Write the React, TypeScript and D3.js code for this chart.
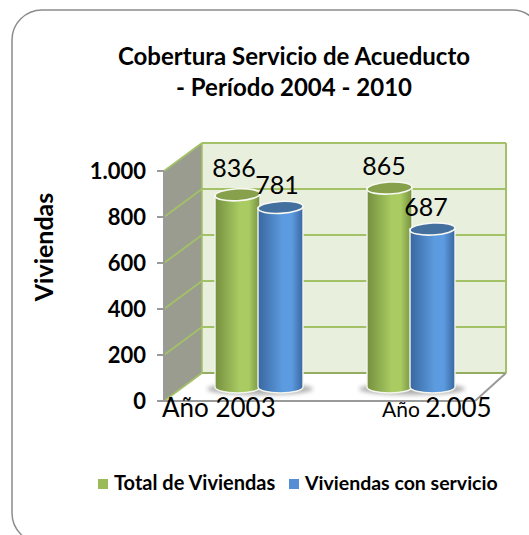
import React from "react";
import * as d3 from "d3";

const categories = ["Año 2003", "Año 2.005"];
const seriesNames = ["Total de Viviendas", "Viviendas con servicio"];
const totalViviendas = [836, 865];
const conServicio = [781, 687];
const yTicks = [0, 200, 400, 600, 800, 1000];
const tickLabels = ["0", "200", "400", "600", "800", "1.000"];
const titleLines = ["Cobertura Servicio de Acueducto", "- Período 2004 - 2010"];

const FONT = "Lato, Carlito, 'Open Sans', sans-serif";
const W = 529, H = 535;
const frontX0 = 164, backX0 = 202, backX1 = 506, frontX1 = 475;

const yFront = d3.scaleLinear().domain([0, 1000]).range([401, 171]);
const yBack = d3.scaleLinear().domain([0, 1000]).range([373, 143]);
const yBar = d3.scaleLinear().domain([0, 1000]).range([387, 157]);
const xCat = d3.scaleBand().domain(categories).range([184, 488]).paddingInner(0);
const BAR = 45;
const colors = [
  { id: "g", dark: "#75903f", light: "#a9cb62", top: "#87a04c", sw: "#9bbb59" },
  { id: "b", dark: "#39679f", light: "#5c9be0", top: "#44709f", sw: "#558ed5" },
];

function barX(catIdx: number, s: number) {
  const c = xCat(categories[catIdx])! + xCat.bandwidth() / 2 - 1;
  return s === 0 ? c - BAR + 1 : c - 1;
}

function Cyl({ x, v, s }: { x: number; v: number; s: number }) {
  const top = yBar(v), base = yBar(0);
  const rx = BAR / 2, ry = 6;
  const cx = x + rx;
  const c = colors[s];
  return (
    <g>
      <path
        d={`M${x},${top} L${x},${base} A${rx},${ry} 0 0 0 ${x + BAR},${base} L${x + BAR},${top} Z`}
        fill={`url(#grad-${c.id})`}
        stroke="#f4f6ee"
        strokeWidth={1.4}
      />
      <ellipse
        cx={cx}
        cy={top}
        rx={rx}
        ry={ry}
        transform={`rotate(-3 ${cx} ${top})`}
        fill={c.top}
        stroke="#f8f9f3"
        strokeWidth={1.6}
      />
    </g>
  );
}

export default function App() {
  const ls = [0, 1];
  return (
    <svg
      width={W}
      height={H}
      viewBox={`0 0 ${W} ${H}`}
      style={{ position: "absolute", left: 0, top: 0, background: "#fff" }}
    >
      <defs>
        {colors.map((c) => (
          <linearGradient key={c.id} id={`grad-${c.id}`} x1="0" x2="1" y1="0" y2="0">
            <stop offset="0" stopColor={c.dark} />
            <stop offset="0.55" stopColor={c.light} />
            <stop offset="0.75" stopColor={c.light} />
            <stop offset="1" stopColor={c.dark} />
          </linearGradient>
        ))}
        <filter id="blur" x="-20%" y="-50%" width="140%" height="200%">
          <feGaussianBlur stdDeviation="2" />
        </filter>
      </defs>

      <rect x={12} y={10} width={530} height={533} rx={30} fill="#fff" stroke="#8c8c8c" strokeWidth={1.5} />

      {/* back wall */}
      <rect x={backX0} y={yBack(1000)} width={backX1 - backX0} height={yBack(0) - yBack(1000)} fill="#e8efdd" />
      {/* side wall */}
      <polygon
        points={`${frontX0},${yFront(0)} ${backX0},${yBack(0)} ${backX0},${yBack(1000)} ${frontX0},${yFront(1000)}`}
        fill="#9a9c90"
      />
      {yTicks.map((t) => (
        <g key={t} stroke="#a3c166" strokeWidth={1.8} fill="none">
          <line x1={backX0} x2={backX1} y1={yBack(t)} y2={yBack(t)} stroke={t === 0 ? "#95ad60" : "#a3c166"} />
          <line x1={frontX0} x2={backX0} y1={yFront(t)} y2={yBack(t)} />
        </g>
      ))}
      <line x1={backX0} x2={backX0} y1={yBack(0)} y2={yBack(1000)} stroke="#a3c166" strokeWidth={1.5} />
      <line x1={backX1} x2={backX1} y1={yBack(0)} y2={yBack(1000)} stroke="#a3c166" strokeWidth={2} />

      {/* floor edges and axis */}
      <g stroke="#9a9a9a" strokeWidth={2} fill="none">
        <line x1={frontX0} x2={frontX0} y1={yFront(1000)} y2={yFront(0)} />
        <line x1={frontX0} x2={frontX1} y1={yFront(0)} y2={yFront(0)} />
        <line x1={frontX1} x2={backX1} y1={yFront(0)} y2={yBack(0)} />
        {yTicks.map((t) => (
          <line key={t} x1={frontX0 - 7} x2={frontX0} y1={yFront(t)} y2={yFront(t)} />
        ))}
      </g>

      {/* shadows */}
      {categories.map((c, i) => (
        <ellipse
          key={c}
          cx={barX(i, 0) + BAR}
          cy={yBar(0) + 2}
          rx={53}
          ry={6}
          fill="#8f8f8f"
          opacity={0.7}
          filter="url(#blur)"
        />
      ))}

      {/* cylinders */}
      {categories.map((c, i) => (
        <g key={c}>
          <Cyl x={barX(i, 0)} v={totalViviendas[i]} s={0} />
          <Cyl x={barX(i, 1)} v={conServicio[i]} s={1} />
        </g>
      ))}

      {/* data labels */}
      <g fontFamily={FONT} fontSize={25} fill="#000" textAnchor="middle">
        {categories.map((c, i) => (
          <g key={c}>
            <text x={barX(i, 0) + (i === 0 ? 19 : 17)} y={yBar(totalViviendas[i]) - (i === 0 ? 18 : 13)}>
              {totalViviendas[i]}
            </text>
            <text x={barX(i, 1) + (i === 0 ? 19 : 16)} y={yBar(conServicio[i]) - 13}>
              {conServicio[i]}
            </text>
          </g>
        ))}
      </g>

      {/* tick labels */}
      <g fontFamily={FONT} fontSize={22} fontWeight={700} fill="#000" textAnchor="end">
        {yTicks.map((t, i) => (
          <text key={t} x={146} y={yFront(t) + 8}>
            {tickLabels[i]}
          </text>
        ))}
      </g>

      {/* categories */}
      <text x={162} y={417} fontFamily={FONT} fontSize={26} fill="#000">{categories[0]}</text>
      <text x={382} y={417} fontFamily={FONT} fill="#000">
        <tspan fontSize={21}>{categories[1].split(" ")[0]} </tspan>
        <tspan fontSize={26}>{categories[1].split(" ")[1]}</tspan>
      </text>

      {/* title */}
      <g fontFamily={FONT} fontSize={24} fontWeight={700} fill="#000" textAnchor="middle">
        {titleLines.map((l, i) => (
          <text key={l} x={294} y={65 + i * 31}>{l}</text>
        ))}
      </g>

      {/* axis title */}
      <text
        transform="translate(53,247) rotate(-90)"
        fontFamily={FONT}
        fontSize={25}
        fontWeight={700}
        textAnchor="middle"
        fill="#000"
      >
        Viviendas
      </text>

      {/* legend */}
      {ls.map((i) => {
        const x = i === 0 ? 98 : 289;
        return (
          <g key={i}>
            <rect x={x} y={479} width={10} height={10} fill={colors[i].sw} />
            <text x={x + 16} y={490} fontFamily={FONT} fontSize={i === 0 ? 20 : 19.5} fontWeight={700} fill="#000">
              {seriesNames[i]}
            </text>
          </g>
        );
      })}
    </svg>
  );
}
